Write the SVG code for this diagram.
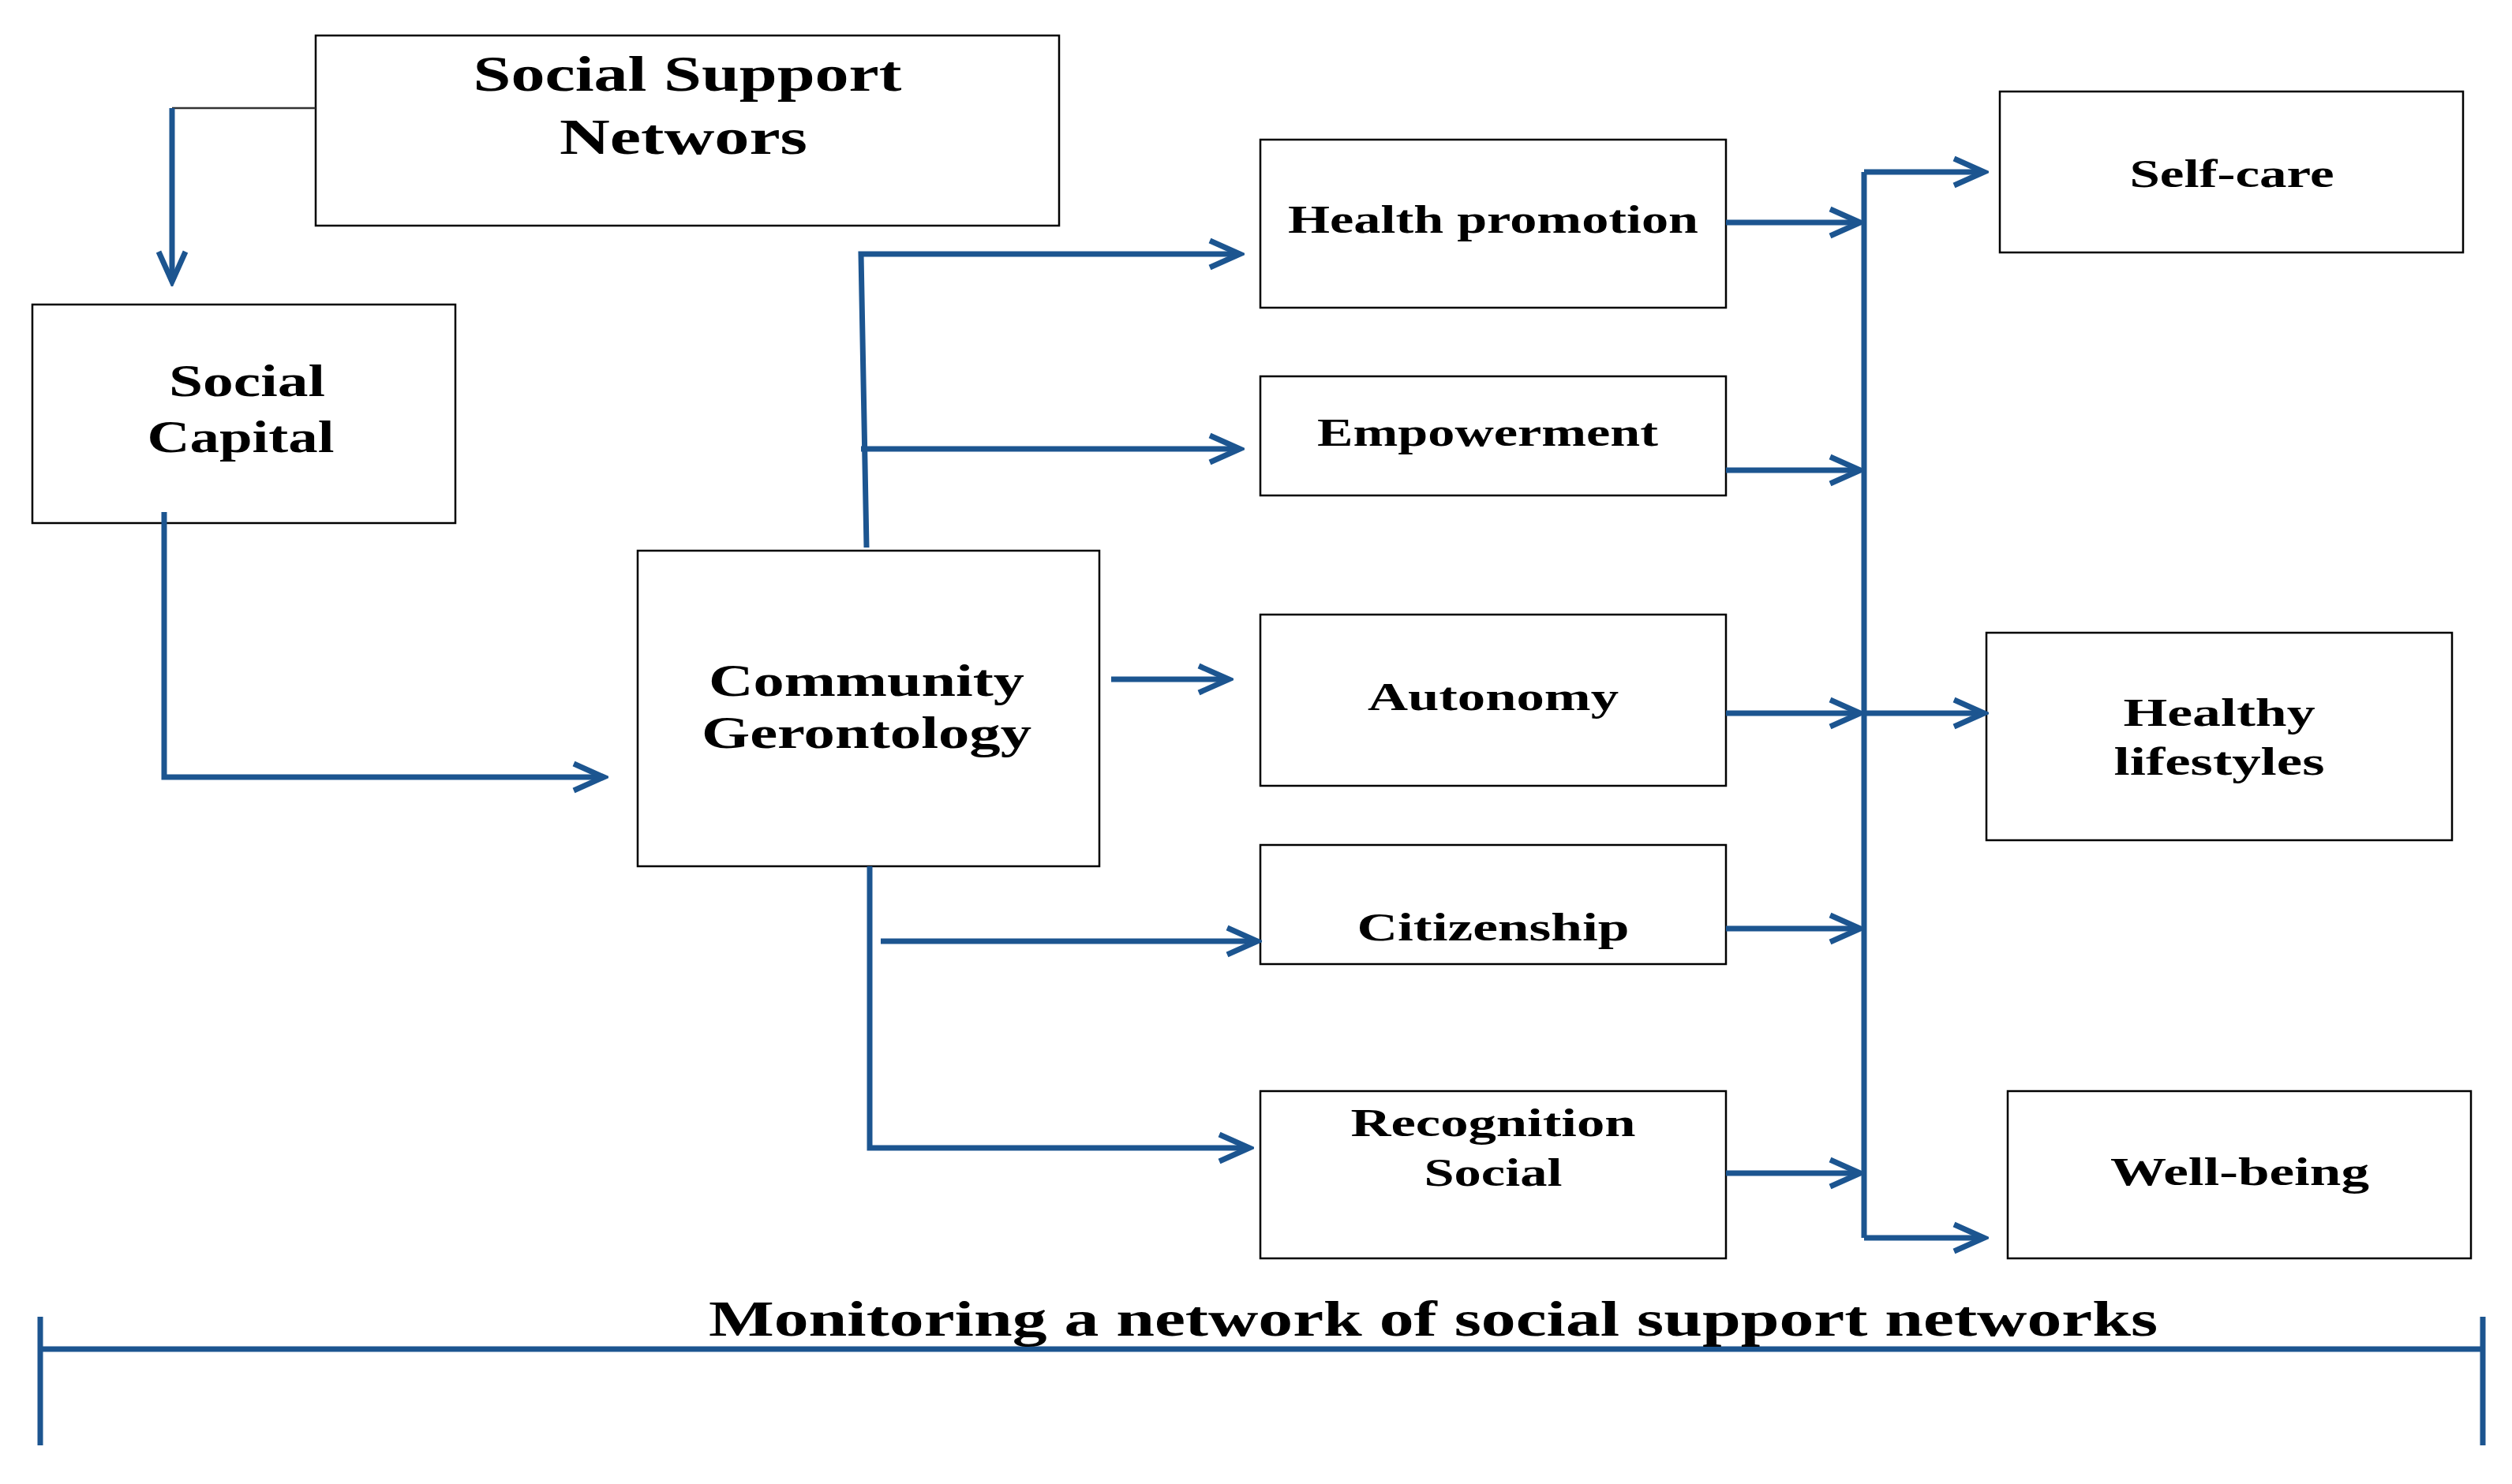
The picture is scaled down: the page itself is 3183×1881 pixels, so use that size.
<svg xmlns="http://www.w3.org/2000/svg" width="3183" height="1881" viewBox="0 0 3183 1881">
<style>
.box{fill:#fff;stroke:#000;stroke-width:2.5}
.t{font-family:"Liberation Serif",serif;font-weight:bold;fill:#000;text-anchor:middle}
.c{fill:none;stroke:#1c5590;stroke-width:7}
</style>
<defs>
<marker id="a" markerUnits="userSpaceOnUse" markerWidth="50" markerHeight="50" refX="44" refY="20" orient="auto" viewBox="0 0 50 40">
<path d="M6,3 L44,20 L6,37" fill="none" stroke="#1c5590" stroke-width="7"/>
</marker>
</defs>
<rect width="3183" height="1881" fill="#fff"/>
<g id="ssn"><rect class="box" x="400" y="45" width="942" height="241"/><text class="t" x="871" y="115" font-size="64" textLength="543" lengthAdjust="spacingAndGlyphs">Social Support</text><text class="t" x="866" y="195" font-size="64" textLength="314" lengthAdjust="spacingAndGlyphs">Networs</text></g>
<g id="sc"><rect class="box" x="41" y="386" width="536" height="277"/><text class="t" x="313" y="502" font-size="56" textLength="198" lengthAdjust="spacingAndGlyphs">Social</text><text class="t" x="305" y="573" font-size="56" textLength="237" lengthAdjust="spacingAndGlyphs">Capital</text></g>
<g id="cg"><rect class="box" x="808" y="698" width="585" height="400"/><text class="t" x="1098" y="882" font-size="58" textLength="400" lengthAdjust="spacingAndGlyphs">Community</text><text class="t" x="1098" y="948" font-size="58" textLength="418" lengthAdjust="spacingAndGlyphs">Gerontology</text></g>
<g id="hp"><rect class="box" x="1597" y="177" width="590" height="213"/><text class="t" x="1892" y="295" font-size="50" textLength="520" lengthAdjust="spacingAndGlyphs">Health promotion</text></g>
<g id="em"><rect class="box" x="1597" y="477" width="590" height="151"/><text class="t" x="1885" y="565" font-size="50" textLength="432" lengthAdjust="spacingAndGlyphs">Empowerment</text></g>
<g id="au"><rect class="box" x="1597" y="779" width="590" height="217"/><text class="t" x="1892" y="900" font-size="50" textLength="318" lengthAdjust="spacingAndGlyphs">Autonomy</text></g>
<g id="ci"><rect class="box" x="1597" y="1071" width="590" height="151"/><text class="t" x="1892" y="1192" font-size="50" textLength="345" lengthAdjust="spacingAndGlyphs">Citizenship</text></g>
<g id="rs"><rect class="box" x="1597" y="1383" width="590" height="212"/><text class="t" x="1892" y="1440" font-size="50" textLength="361" lengthAdjust="spacingAndGlyphs">Recognition</text><text class="t" x="1892" y="1503" font-size="50" textLength="175" lengthAdjust="spacingAndGlyphs">Social</text></g>
<g id="self"><rect class="box" x="2534" y="116" width="587" height="204"/><text class="t" x="2828" y="237" font-size="50" textLength="259" lengthAdjust="spacingAndGlyphs">Self-care</text></g>
<g id="hl"><rect class="box" x="2517" y="802" width="590" height="263"/><text class="t" x="2812" y="920" font-size="50" textLength="243" lengthAdjust="spacingAndGlyphs">Healthy</text><text class="t" x="2812" y="982" font-size="50" textLength="267" lengthAdjust="spacingAndGlyphs">lifestyles</text></g>
<g id="wb"><rect class="box" x="2544" y="1383" width="587" height="212"/><text class="t" x="2838" y="1502" font-size="50" textLength="328" lengthAdjust="spacingAndGlyphs">Well-being</text></g>
<g id="connectors">
<path d="M400,137 H218" fill="none" stroke="#333" stroke-width="2.5"/>
<path class="c" d="M218,137 V357" marker-end="url(#a)"/>
<path class="c" d="M208,649 V985 H765" marker-end="url(#a)"/>
<path class="c" d="M1098,694 L1091,322 H1571" marker-end="url(#a)"/>
<path class="c" d="M1091,569 H1571" marker-end="url(#a)"/>
<path class="c" d="M1408,861 H1557" marker-end="url(#a)"/>
<path class="c" d="M1102,1098 V1455 H1583" marker-end="url(#a)"/>
<path class="c" d="M1116,1193 H1593" marker-end="url(#a)"/>
<path class="c" d="M2187,282 H2357" marker-end="url(#a)"/>
<path class="c" d="M2187,596 H2357" marker-end="url(#a)"/>
<path class="c" d="M2187,904 H2357" marker-end="url(#a)"/>
<path class="c" d="M2187,1177 H2357" marker-end="url(#a)"/>
<path class="c" d="M2187,1487 H2357" marker-end="url(#a)"/>
<path class="c" d="M2362,218 V1569"/>
<path class="c" d="M2362,218 H2514" marker-end="url(#a)"/>
<path class="c" d="M2362,904 H2514" marker-end="url(#a)"/>
<path class="c" d="M2362,1569 H2514" marker-end="url(#a)"/>
<path class="c" d="M51,1710 H3146 M51,1669 V1832 M3146,1669 V1832"/>
</g>
<text class="t" x="1816" y="1693" font-size="64" textLength="1836" lengthAdjust="spacingAndGlyphs">Monitoring a network of social support networks</text>
</svg>
